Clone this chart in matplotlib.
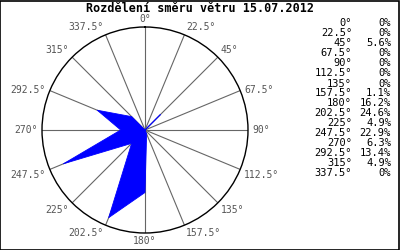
import numpy as np
import matplotlib
matplotlib.use('Agg')
import matplotlib.pyplot as plt
from matplotlib.patches import Rectangle

title = 'Rozdělení směru větru 15.07.2012'
directions = [0, 22.5, 45, 67.5, 90, 112.5, 135, 157.5,
              180, 202.5, 225, 247.5, 270, 292.5, 315, 337.5]
percents = [0, 0, 5.6, 0, 0, 0, 0, 1.1,
            16.2, 24.6, 4.9, 22.9, 6.3, 13.4, 4.9, 0]

r_max = 26.7
mono = 'DejaVu Sans Mono'

fig = plt.figure(figsize=(4, 2.5), dpi=100)
fig.patch.set_facecolor('white')

ax = fig.add_axes([0.105, 0.068, 0.515, 0.824], projection='polar')
ax.set_theta_zero_location('N')
ax.set_theta_direction(-1)
ax.set_ylim(0, r_max)
ax.set_yticks([])
ax.set_xticks([])
ax.grid(False)
ax.spines['polar'].set_color('black')
ax.spines['polar'].set_linewidth(1.0)

theta = np.deg2rad(directions)
for t in theta:
    ax.plot([t, t], [0, r_max], color='#666666', lw=0.8, zorder=1)

# wind rose polygon
th = np.append(theta, theta[0])
rr = np.append(percents, percents[0])
ax.fill(th, rr, color='#0000ff', lw=0, zorder=3)
ax.plot(th, rr, color='#0000ff', lw=0.6, zorder=3)

# direction labels on the circle
for d, t in zip(directions, theta):
    s, c = np.sin(t), np.cos(t)
    if s > 0.01:
        ha = 'left'
    elif s < -0.01:
        ha = 'right'
    else:
        ha = 'center'
    if c > 0.5:
        va = 'bottom'
    elif c > -0.1:
        va = 'center'
    else:
        va = 'top'
    ax.annotate('%g°' % d, xy=(t, r_max), xytext=(3 * s, 2 * c),
                textcoords='offset points', ha=ha, va=va,
                fontsize=7, family=mono, color='#555555',
                annotation_clip=False)

fig.text(0.5, 0.968, title, ha='center', va='center',
         fontsize=8.5, family=mono, fontweight='bold')

# legend table
for i, (d, p) in enumerate(zip(directions, percents)):
    y = 1 - (23.5 + 10 * i) / 250
    fig.text(352 / 400, y, '%g°' % d, ha='right', va='center',
             fontsize=7.5, family=mono)
    ptxt = '0%' if p == 0 else '%.1f%%' % p
    fig.text(391 / 400, y, ptxt, ha='right', va='center',
             fontsize=7.5, family=mono)

fig.add_artist(Rectangle((0.001, 0.002), 0.997, 0.995, transform=fig.transFigure,
                         fill=False, edgecolor='black', lw=1.2))

fig.savefig('out.png', dpi=100)
